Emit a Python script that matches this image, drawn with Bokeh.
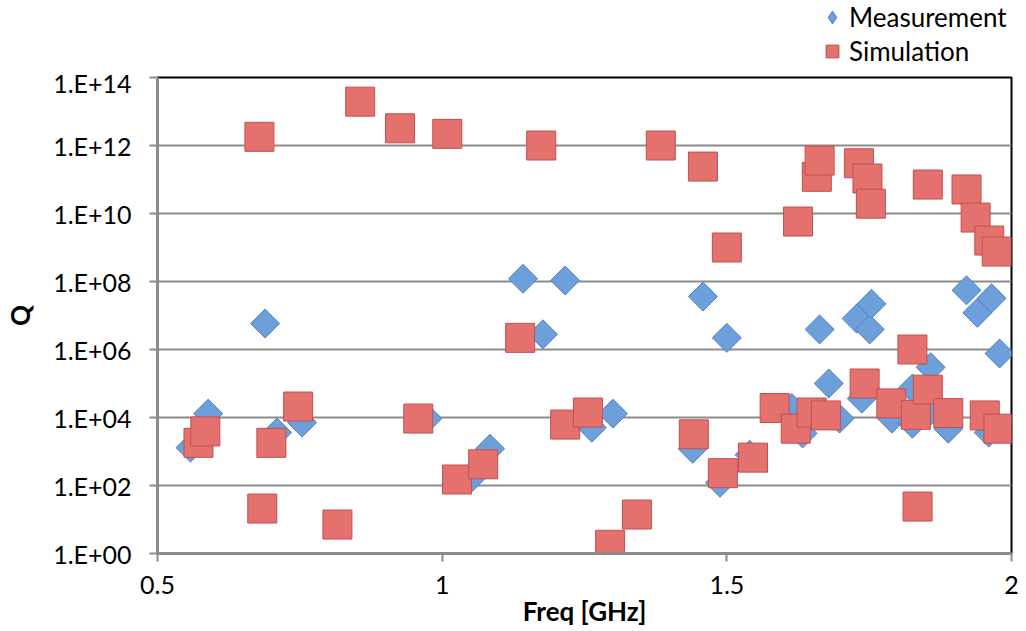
from bokeh.plotting import figure
from bokeh.models import (ColumnDataSource, FixedTicker, CustomJSTickFormatter,
                          Legend, LegendItem, Range1d)
from bokeh.layouts import column
from bokeh.embed import file_html
from bokeh.resources import INLINE
import math

# ---- data ----
meas_freq = [0.558, 0.589, 0.689, 0.710, 0.754, 0.974, 1.050, 1.084, 1.142, 1.177,
             1.216, 1.263, 1.300, 1.440, 1.458, 1.488, 1.500, 1.540, 1.614, 1.633,
             1.663, 1.679, 1.698, 1.728, 1.751, 1.754, 1.737, 1.790, 1.826, 1.826,
             1.858, 1.858, 1.889, 1.921, 1.940, 1.965, 1.979, 1.960]
meas_q = [1.3e3, 1.3e4, 5.8e6, 3.6e3, 7.1e3, 9.3e3, 1.6e2, 1.2e3, 1.2e8, 2.8e6,
          1.07e8, 5.0e3, 1.3e4, 1.2e3, 3.6e7, 1.2e2, 2.2e6, 8.0e2, 1.9e4, 3.4e3,
          3.9e6, 1.0e5, 9.3e3, 8.1e6, 3.9e6, 2.2e7, 3.6e4, 9.3e3, 7.1e4, 6.6e3,
          3.0e5, 1.6e4, 4.7e3, 5.5e7, 1.2e7, 3.2e7, 7.6e5, 3.6e3]

sim_freq = [0.572, 0.584, 0.679, 0.684, 0.700, 0.747, 0.816, 0.856, 0.926, 0.958,
            1.009, 1.026, 1.072, 1.137, 1.174, 1.216, 1.256, 1.295, 1.342, 1.384,
            1.442, 1.458, 1.493, 1.500, 1.546, 1.584, 1.621, 1.625, 1.649, 1.658,
            1.663, 1.674, 1.732, 1.742, 1.747, 1.753, 1.789, 1.826, 1.832, 1.835,
            1.853, 1.853, 1.889, 1.921, 1.937, 1.953, 1.961, 1.974, 1.977]
sim_q = [1.8e3, 3.9e3, 1.8e12, 2.1e1, 1.8e3, 2.1e4, 7.1e0, 1.95e13, 3.2e12, 9.3e3,
         2.2e12, 1.5e2, 4.2e2, 2.2e6, 1.0e12, 6.2e3, 1.4e4, 1.8e0, 1.4e1, 1.0e12,
         3.2e3, 2.4e11, 2.3e2, 1.0e9, 6.6e2, 1.9e4, 4.7e3, 5.8e9, 1.4e4, 1.2e11,
         3.6e11, 1.15e4, 3.0e11, 1.0e5, 1.07e11, 1.95e10, 2.6e4, 1.0e6, 1.2e4, 2.4e1,
         7.1e10, 6.6e4, 1.35e4, 5.1e10, 7.6e9, 1.15e4, 1.6e9, 7.6e8, 4.7e3]

series_names = ["Measurement", "Simulation"]
x_ticks = [0.5, 1.0, 1.5, 2.0]
y_ticks = [1e0, 1e2, 1e4, 1e6, 1e8, 1e10, 1e12, 1e14]

FONT = "Lato"
BLUE_FILL, BLUE_LINE = "#6d9fdb", "#4f81bd"
RED_FILL, RED_LINE = "#e5716f", "#c0504d"

msrc = ColumnDataSource(dict(x=meas_freq, y=meas_q))
ssrc = ColumnDataSource(dict(x=sim_freq, y=sim_q))

# ---------------- main plot ----------------
p = figure(width=1026, height=564, y_axis_type="log",
           x_range=Range1d(0.5, 2.0), y_range=Range1d(1e0, 1e14),
           output_backend="svg", toolbar_location=None,
           min_border_left=157, min_border_right=15,
           min_border_top=10, min_border_bottom=78)

p.background_fill_color = "white"
p.border_fill_color = "white"
p.outline_line_color = "black"
p.outline_line_width = 2

p.xgrid.visible = False
p.ygrid.ticker = FixedTicker(ticks=y_ticks)
p.ygrid.grid_line_color = "#8c8c8c"
p.ygrid.grid_line_width = 2

p.xaxis.ticker = FixedTicker(ticks=x_ticks)
p.xaxis.formatter = CustomJSTickFormatter(code="return String(tick);")
p.yaxis.ticker = FixedTicker(ticks=y_ticks)
p.yaxis.formatter = CustomJSTickFormatter(code="""
const e = Math.round(Math.log10(tick));
return "1.E+" + (e < 10 ? "0" + e : String(e));
""")
for ax in (p.xaxis[0], p.yaxis[0]):
    ax.axis_line_color = "#8c8c8c"
    ax.axis_line_width = 3
    ax.major_tick_line_color = "#8c8c8c"
    ax.major_tick_line_width = 2
    ax.major_tick_out = 8
    ax.major_tick_in = 0
    ax.minor_tick_line_color = None
    ax.major_label_text_font = FONT
    ax.major_label_text_font_size = "25px"
    ax.major_label_text_color = "black"
    ax.axis_label_text_font = FONT
    ax.axis_label_text_font_style = "bold"
    ax.axis_label_text_font_size = "26px"
    ax.axis_label_text_color = "black"

p.xaxis.axis_label = "Freq [GHz]"
p.xaxis.major_label_standoff = 14
p.xaxis.axis_label_standoff = -2
p.yaxis.axis_label = "Q"
p.yaxis.major_label_standoff = 18
p.yaxis.axis_label_standoff = 14

p.scatter("x", "y", source=msrc, marker="square", size=20.5, angle=math.pi / 4,
          fill_color=BLUE_FILL, line_color=BLUE_LINE, line_width=1)
p.scatter("x", "y", source=ssrc, marker="square", size=29,
          fill_color=RED_FILL, line_color=RED_LINE, line_width=1)

# ---------------- legend strip (above the plot) ----------------
# same sources; the strip's ranges keep its own copies of the marks off-screen,
# so only the legend entries show.
lf = figure(width=1026, height=67, x_range=Range1d(10, 11), y_range=Range1d(10, 11),
            output_backend="svg", toolbar_location=None,
            x_axis_location=None, y_axis_location=None, min_border=0)
lf.frame_align = False
lf.outline_line_color = None
lf.xgrid.visible = False
lf.ygrid.visible = False
lm = lf.scatter("x", "y", source=msrc, marker="diamond",
                fill_color=BLUE_FILL, line_color=BLUE_LINE, line_width=1)
ls = lf.scatter("x", "y", source=ssrc, marker="square",
                fill_color=RED_FILL, line_color=RED_LINE, line_width=1)
legend = Legend(items=[LegendItem(label=series_names[0], renderers=[lm]),
                       LegendItem(label=series_names[1], renderers=[ls])],
                location=(815, 0), orientation="vertical",
                background_fill_alpha=0, border_line_alpha=0,
                label_text_font=FONT, label_text_font_size="26px",
                label_text_color="black",
                glyph_width=34, glyph_height=32, label_standoff=0,
                label_height=30, spacing=2, padding=0, margin=0)
lf.add_layout(legend, "center")

layout = column(lf, p, spacing=0)
open("out.html", "w").write(file_html(layout, INLINE))
